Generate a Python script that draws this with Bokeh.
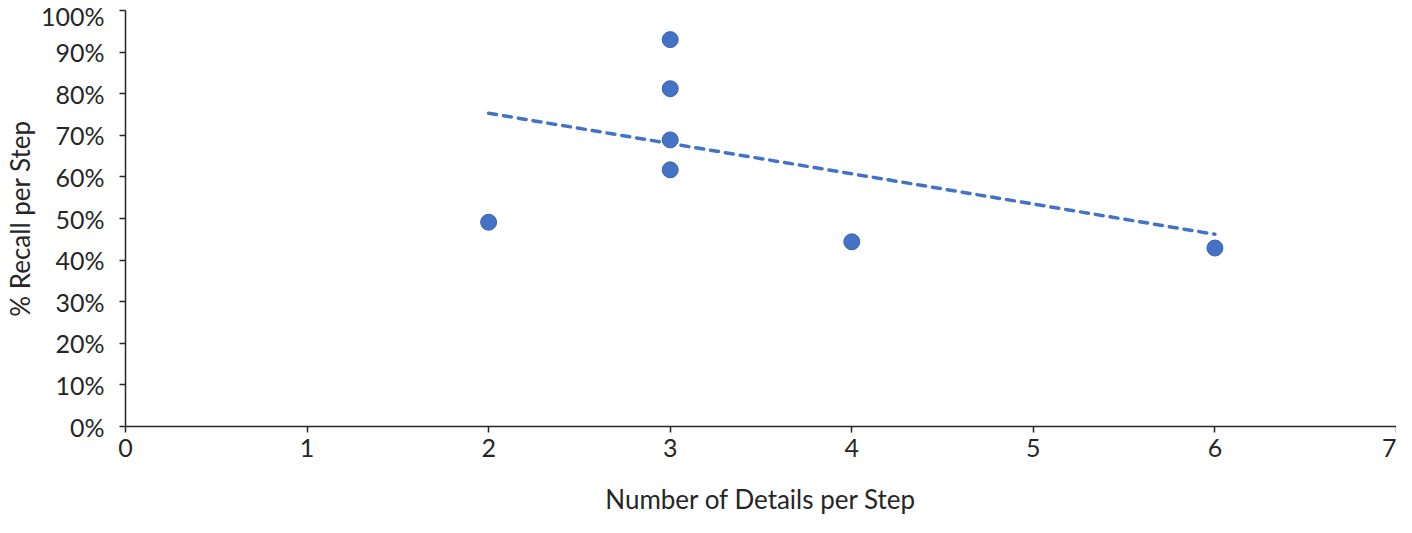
from bokeh.plotting import figure
from bokeh.models import Range1d, FixedTicker, NumeralTickFormatter
from bokeh.embed import file_html
from bokeh.resources import INLINE

# Data
details = [2, 3, 3, 3, 3, 4, 6]
recall = [0.491, 0.930, 0.812, 0.689, 0.617, 0.444, 0.429]

# Linear trendline endpoints
trend_x = [2, 6]
trend_y = [0.753, 0.462]

x_ticks = [0, 1, 2, 3, 4, 5, 6, 7]
y_ticks = [0, 0.1, 0.2, 0.3, 0.4, 0.5, 0.6, 0.7, 0.8, 0.9, 1.0]

FONT = "Lato"
TXT = "#262626"
BLUE = "#4472C4"

p = figure(width=1396, height=517, output_backend="svg", toolbar_location=None,
           x_range=Range1d(0, 7), y_range=Range1d(0, 1),
           min_border_left=100, min_border_right=0, min_border_top=10, min_border_bottom=60)
p.outline_line_color = None
p.xgrid.visible = False
p.ygrid.visible = False
p.background_fill_color = "white"
p.border_fill_color = "white"

p.line(trend_x, trend_y, line_color=BLUE, line_width=3.5, line_dash="8 7", line_cap="round")
p.scatter(details, recall, size=16, fill_color=BLUE, line_color="#3a64b0", line_width=1)

for ax in (p.xaxis[0], p.yaxis[0]):
    ax.axis_line_color = TXT
    ax.axis_line_width = 1.5
    ax.major_tick_line_color = TXT
    ax.major_tick_line_width = 1.5
    ax.major_tick_in = 0
    ax.major_tick_out = 6
    ax.minor_tick_line_color = None
    ax.major_label_text_font = FONT
    ax.major_label_text_font_size = "25px"
    ax.major_label_text_color = TXT
    ax.axis_label_text_font = FONT
    ax.axis_label_text_font_size = "26px"
    ax.axis_label_text_font_style = "normal"
    ax.axis_label_text_color = TXT

p.xaxis[0].ticker = FixedTicker(ticks=x_ticks)
p.yaxis[0].ticker = FixedTicker(ticks=y_ticks)
p.yaxis[0].formatter = NumeralTickFormatter(format="0%")
p.xaxis[0].axis_label = "Number of Details per Step"
p.yaxis[0].axis_label = "% Recall per Step"
p.xaxis[0].major_label_standoff = 6
p.xaxis[0].axis_label_standoff = 23
p.yaxis[0].major_label_standoff = 15
p.yaxis[0].axis_label_standoff = 2

open("out.html", "w").write(file_html(p, INLINE))
